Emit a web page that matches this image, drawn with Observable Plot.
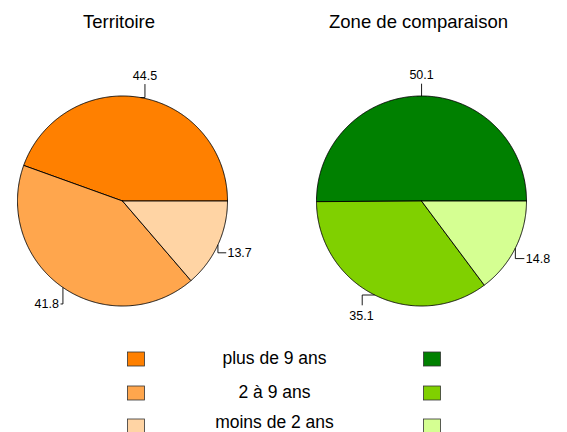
<!DOCTYPE html>
<html><head><meta charset="utf-8">
<script src="https://cdn.jsdelivr.net/npm/d3@7"></script>
<script src="https://cdn.jsdelivr.net/npm/@observablehq/plot@0.6"></script>
<style>
body{margin:0;background:#fff}
svg{display:block}
</style>
</head><body><div id="chart"></div>
<script>
// ---- data ----
const panels = ["Territoire", "Zone de comparaison"];
const categories = ["plus de 9 ans", "2 à 9 ans", "moins de 2 ans"];
const territoire = [44.5, 41.8, 13.7];
const comparaison = [50.1, 35.1, 14.8];
const orangeColors = ["#FF8000", "#FFA64D", "#FFD4A4"];
const greenColors = ["#008000", "#80D000", "#D5FF92"];

// ---- layout ----
const W = 567, H = 432, R = 105;
const FONT = "'Liberation Sans', Arial, Helvetica, sans-serif";
const pies = [
  {title: panels[0], values: territoire, colors: orangeColors, cx: 122, cy: 200.5, tx: 118.5},
  {title: panels[1], values: comparaison, colors: greenColors, cx: 421, cy: 200.5, tx: 418}
];
// label connector layout per slice (relative to the slice's edge midpoint)
const labelLayout = [
  [
    {elbow: "hv", dx: 4.4, dy: -13.5, tdx: 4.4, tdy: -22, anchor: "middle"},
    {elbow: "vh", dx: -2.4, dy: 16.5, tdx: -4, tdy: 17, anchor: "end"},
    {elbow: "vh", dx: 8.3, dy: 8, tdx: 9.5, tdy: 8, anchor: "start"}
  ],
  [
    {elbow: "hv", dx: 0.4, dy: -12.3, tdx: 0.4, tdy: -21.5, anchor: "middle"},
    {elbow: "hv", dx: -12.5, dy: 10.3, tdx: -13.2, tdy: 20.5, anchor: "middle"},
    {elbow: "vh", dx: 9, dy: 10.5, tdx: 10.5, tdy: 10.5, anchor: "start"}
  ]
];
const legendRowY = [359, 393, 426];
const legendTextY = [357.5, 391.5, 421.5];
const legendSq = {w: 17, h: 14, leftX: 127.5, rightX: 423.5, textX: 274};

// ---- build geometry from data ----
const slices = [];
const connectors = [];
const labels = [];
pies.forEach((p, pi) => {
  const total = d3.sum(p.values);
  let cum = 0;
  p.values.forEach((v, i) => {
    const a0 = 2 * Math.PI * cum / total;
    const a1 = 2 * Math.PI * (cum + v) / total;
    cum += v;
    const pts = [{x: p.cx, y: p.cy}];
    const n = Math.max(2, Math.ceil((a1 - a0) / (Math.PI / 360)));
    for (let k = 0; k <= n; k++) {
      const a = a0 + (a1 - a0) * k / n;
      pts.push({x: p.cx + R * Math.cos(a), y: p.cy - R * Math.sin(a)});
    }
    pts.push({x: p.cx, y: p.cy});
    slices.push({pts, color: p.colors[i]});

    const am = (a0 + a1) / 2;
    const ex = p.cx + R * Math.cos(am), ey = p.cy - R * Math.sin(am);
    const L = labelLayout[pi][i];
    const id = pi + "-" + i;
    const corner = L.elbow === "hv" ? {x: ex + L.dx, y: ey} : {x: ex, y: ey + L.dy};
    const end = {x: ex + L.dx, y: ey + L.dy};
    connectors.push({id, x: ex, y: ey}, {id, ...corner}, {id, ...end});
    labels.push({x: ex + L.tdx, y: ey + L.tdy, text: v.toFixed(1), anchor: L.anchor});
  });
});

const legendRects = [];
categories.forEach((c, i) => {
  const y = legendRowY[i];
  legendRects.push({x1: legendSq.leftX, x2: legendSq.leftX + legendSq.w, y1: y - legendSq.h / 2, y2: y + legendSq.h / 2, fill: orangeColors[i]});
  legendRects.push({x1: legendSq.rightX, x2: legendSq.rightX + legendSq.w, y1: y - legendSq.h / 2, y2: y + legendSq.h / 2, fill: greenColors[i]});
});
const legendTexts = categories.map((c, i) => ({x: legendSq.textX, y: legendTextY[i], text: c}));

const marks = [
  ...slices.map(s => Plot.line(s.pts, {x: "x", y: "y", fill: s.color, stroke: "black", strokeWidth: 0.9, strokeLinejoin: "round"})),
  Plot.line(connectors, {x: "x", y: "y", z: "id", stroke: "black", strokeWidth: 0.9, strokeLinecap: "butt", strokeLinejoin: "miter"}),
  ...["start", "middle", "end"].map(an => Plot.text(labels.filter(d => d.anchor === an), {x: "x", y: "y", text: "text", textAnchor: an, fontSize: 12.5, fill: "black"})),
  Plot.text(pies, {x: "tx", y: () => 21.5, text: "title", fontSize: 18.5, fill: "black"}),
  Plot.rect(legendRects, {x1: "x1", x2: "x2", y1: "y1", y2: "y2", fill: "fill", stroke: "#333", strokeWidth: 0.8}),
  Plot.text(legendTexts, {x: "x", y: "y", text: "text", fontSize: 17.5, fill: "black"})
];

const chart = Plot.plot({
  width: W,
  height: H,
  margin: 0,
  x: {domain: [0, W], range: [0, W], axis: null},
  y: {domain: [0, H], range: [0, H], axis: null},
  color: {type: "identity"},
  style: {fontFamily: FONT, background: "white", color: "black"},
  marks
});
document.getElementById("chart").appendChild(chart);
</script>
</body></html>
